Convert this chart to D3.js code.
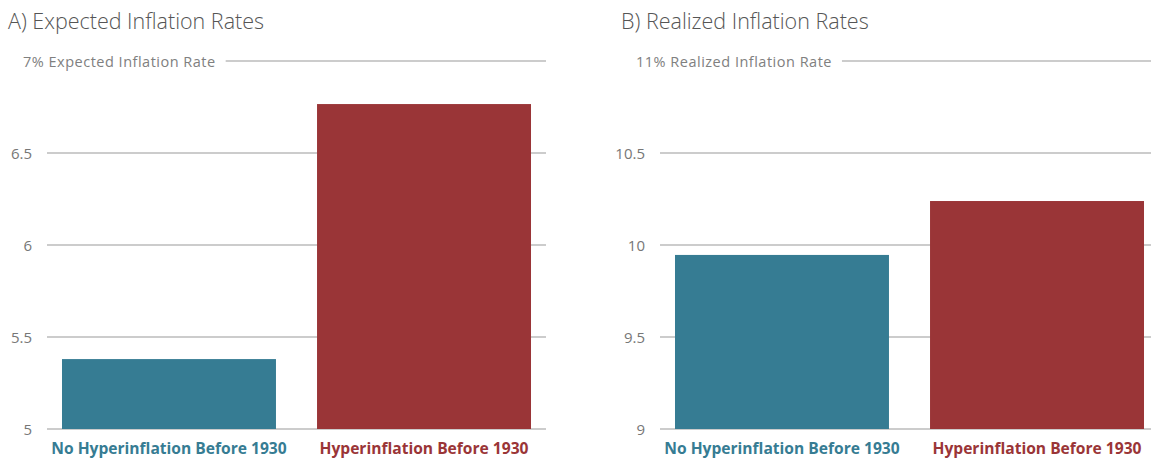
<!DOCTYPE html>
<html>
<head>
<meta charset="utf-8">
<script src="https://cdn.jsdelivr.net/npm/d3@7"></script>
<style>
body{margin:0;background:#fff}
text{font-family:"Open Sans",sans-serif}
</style>
</head>
<body>
<div id="chart"></div>
<script>
var categories = ["No Hyperinflation Before 1930","Hyperinflation Before 1930"]
var expectedValues = [5.38, 6.766]
var realizedValues = [9.946, 10.239]
var expectedTicks = [5, 5.5, 6, 6.5, 7]
var realizedTicks = [9, 9.5, 10, 10.5, 11]
var titles = ["A) Expected Inflation Rates","B) Realized Inflation Rates"]
var topLabels = ["7% Expected Inflation Rate","11% Realized Inflation Rate"]
var barColors = ["#367c93","#9a3537"]

var width = 1151
var height = 459
var svg = d3.select("#chart").append("svg").attr("width",width).attr("height",height)

drawPanel(0, 0, expectedValues, expectedTicks)
drawPanel(1, 613, realizedValues, realizedTicks)

function drawPanel(idx, offset, values, ticks){
    var g = svg.append("g").attr("transform","translate("+offset+",0)")
    var left = 47
    var right = 546
    var yScale = d3.scaleLinear().domain([ticks[0],ticks[ticks.length-1]]).range([429,61])
    var xScale = d3.scaleBand().domain(categories).range([left,right]).paddingInner(0.161).paddingOuter(0.0588)

    g.append("text").text(titles[idx])
    .attr("x",8).attr("y",29)
    .attr("font-size",21.5).attr("font-weight",300).attr("fill","#555")

    // gridlines, the top one is replaced by a text label
    for(var t in ticks){
        var v = ticks[t]
        var y = yScale(v)
        if(t==ticks.length-1){
            var lab = g.append("text").text(topLabels[idx])
            .attr("x",23).attr("y",y+6)
            .attr("font-size",14.5)
            .attr("letter-spacing",0.5).attr("fill","#808080")
            var w = lab.node().getComputedTextLength()
            g.append("line").attr("x1",23+w+10).attr("x2",right).attr("y1",y).attr("y2",y)
            .attr("stroke","#999").attr("stroke-width",1)
            continue
        }
        g.append("line").attr("x1",left).attr("x2",right).attr("y1",y).attr("y2",y)
        .attr("stroke",t==0 ? "#ccc" : "#999").attr("stroke-width",t==0 ? 2 : 1)
        g.append("text").text(v)
        .attr("x",32).attr("y",y+5.5).attr("text-anchor","end")
        .attr("font-size",15).attr("fill","#777")
    }

    g.selectAll(".bar")
    .data(values)
    .enter()
    .append("rect")
    .attr("x",function(d,i){return xScale(categories[i])})
    .attr("y",function(d){return yScale(d)})
    .attr("width",xScale.bandwidth())
    .attr("height",function(d){return yScale(ticks[0])-yScale(d)})
    .attr("fill",function(d,i){return barColors[i]})

    g.selectAll(".catLabel")
    .data(categories)
    .enter()
    .append("text")
    .attr("x",function(d){return xScale(d)+xScale.bandwidth()/2})
    .attr("y",454)
    .attr("text-anchor","middle")
    .attr("font-size",15.6).attr("font-weight","bold")
    .attr("fill",function(d,i){return barColors[i]})
    .text(function(d){return d})
}
</script>
</body>
</html>
